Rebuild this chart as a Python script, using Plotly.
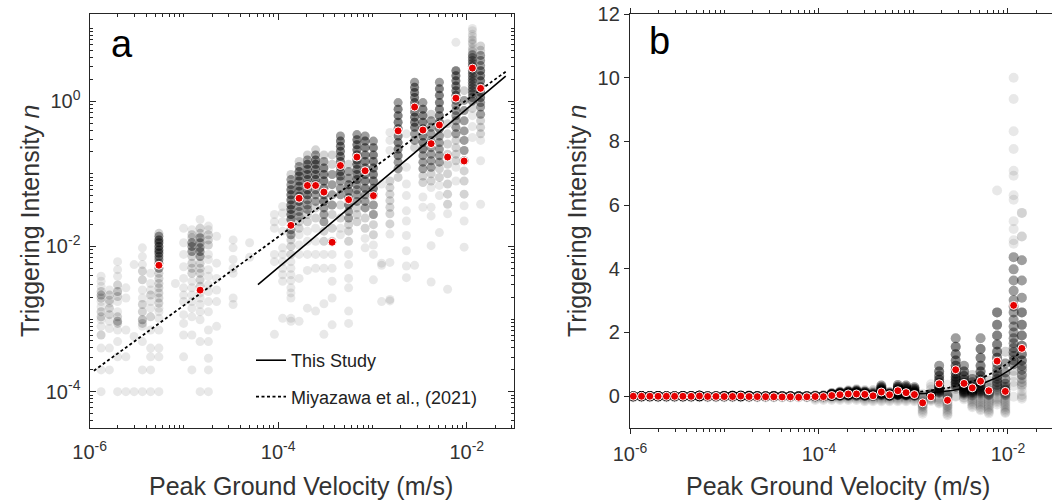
import numpy as np
import plotly.graph_objects as go

# ---------------- data ----------------
# PGV bin centres (m/s)
pgv_bins = [1.084e-6, 1.324e-6, 1.622e-6, 1.982e-6, 2.427e-6, 2.965e-6, 3.631e-6, 4.436e-6,
            5.433e-6, 6.637e-6, 8.128e-6, 9.93e-6, 1.216e-5, 1.486e-5, 1.820e-5, 2.223e-5,
            2.723e-5, 3.327e-5, 4.074e-5, 4.977e-5, 6.095e-5, 7.447e-5, 9.12e-5, 1.114e-4,
            1.365e-4, 1.667e-4, 2.042e-4, 2.495e-4, 3.055e-4, 3.733e-4, 4.571e-4, 5.585e-4,
            6.839e-4, 8.356e-4, 1.023e-3, 1.250e-3, 1.531e-3, 1.871e-3, 2.291e-3, 2.799e-3,
            3.428e-3, 4.188e-3, 5.129e-3, 6.266e-3, 7.674e-3, 9.376e-3, 1.148e-2, 1.403e-2]

# bin means of triggering intensity n (red dots)
mean_n = [-0.002, -0.003, -0.002, -0.004, -0.003, -0.005, -0.004, -0.006,
          0.0055, -0.01, -0.008, -0.012, -0.01, 0.0025, -0.012, -0.015,
          -0.018, -0.02, -0.025, -0.022, -0.035, -0.02, -0.012, -0.015,
          0.0195, 0.046, 0.069, 0.069, 0.056, 0.0114, 0.13, 0.044,
          0.17, 0.11, 0.05, -0.21, -0.02, 0.39, -0.13, 0.83,
          0.40, 0.26, 0.47, 0.17, 1.10, 0.15, 2.85, 1.50]

# individual positive n values per bin, as log10(n)
pos_log = [
    [],
    [-2.41, -2.48, -2.55, -2.62, -2.67, -2.71, -2.76, -2.83, -2.90, -2.97, -3.01, -3.10, -3.22, -3.40, -3.70, -4.0],
    [-2.60, -2.67, -2.74, -2.78, -2.85, -2.94, -3.03, -3.13, -3.40, -3.70],
    [-2.21, -2.32, -2.41, -2.53, -2.62, -2.69, -2.76, -2.90, -2.97, -3.03, -3.06, -3.15, -3.31, -3.52, -4.0],
    [-2.57, -2.71, -3.15, -3.52, -4.0],
    [-2.25, -3.24, -4.0],
    [-2.02, -2.14, -2.25, -2.34, -2.46, -2.60, -2.71, -2.80, -2.90, -3.01, -3.06, -3.10, -3.31, -3.70, -4.0],
    [-2.37, -2.51, -2.60, -2.67, -2.76, -2.85, -2.97, -3.15, -3.40, -3.52, -3.70, -4.0],
    [-1.82, -1.86, -1.91, -1.95, -2.0, -2.05, -2.09, -2.14, -2.18, -2.23, -2.30, -2.37, -2.44, -2.51, -2.57,
     -2.64, -2.71, -2.78, -2.85, -2.90, -2.99, -3.15, -3.40, -3.52, -4.0],
    [],
    [-2.51],
    [-1.75, -1.95, -2.11, -2.28, -2.44, -2.57, -2.67, -2.76, -2.94, -3.06, -3.22, -3.52],
    [-1.77, -1.84, -1.88, -1.95, -2.0, -2.07, -2.14, -2.23, -2.30, -2.37, -2.48, -2.57, -2.67, -2.76, -2.85,
     -2.97, -3.22, -3.70],
    [-1.63, -1.75, -1.82, -1.88, -1.95, -2.02, -2.07, -2.14, -2.23, -2.30, -2.37, -2.46, -2.55, -2.64, -2.71,
     -2.80, -2.90, -3.01, -3.31, -4.0],
    [-1.72, -1.77, -1.84, -1.91, -1.98, -2.11, -2.18, -2.32, -2.41, -2.53, -2.62, -2.76, -2.90, -3.15, -3.31,
     -3.54, -3.70, -4.0],
    [-1.86, -2.23, -2.44, -2.60, -2.76, -3.10],
    [],
    [-1.91, -2.02, -2.18, -2.30, -2.37, -2.71, -2.80],
    [],
    [-1.95, -2.15],
    [],
    [],
    [-1.56, -1.66, -1.75, -2.11, -2.21, -3.21],
    [-1.45, -1.54, -1.66, -1.79, -2.02, -2.11, -2.21, -2.30, -2.39, -2.48, -2.99],
    [-1.01, -1.08, -1.15, -1.22, -1.29, -1.36, -1.43, -1.49, -1.56, -1.63, -1.77, -1.84, -1.91, -2.0, -2.11,
     -2.21, -2.30, -2.39, -2.47, -2.57, -2.64, -2.71, -2.99, -3.03],
    [-0.83, -0.90, -0.97, -1.03, -1.10, -1.17, -1.24, -1.31, -1.38, -1.45, -1.52, -1.59, -1.66, -1.75, -1.84,
     -1.98, -2.11, -2.44, -3.03],
    [-0.74, -0.81, -0.87, -0.94, -1.01, -1.08, -1.15, -1.22, -1.29, -1.36, -1.43, -1.49, -1.56, -1.66, -1.79,
     -1.93, -2.11, -2.33, -2.85],
    [-0.67, -0.74, -0.81, -0.87, -0.94, -1.01, -1.08, -1.15, -1.22, -1.29, -1.38, -1.47, -1.61, -1.75, -1.93,
     -2.11, -2.30, -2.89],
    [-0.74, -0.83, -0.92, -1.01, -1.10, -1.20, -1.29, -1.38, -1.47, -1.56, -1.66, -1.79, -1.93, -2.11, -2.30,
     -2.79, -3.21],
    [-0.74, -0.87, -1.01, -1.15, -1.29, -1.43, -1.56, -1.75, -1.93, -2.11, -2.30, -2.48, -2.71, -3.08],
    [-0.48, -0.55, -0.62, -0.69, -0.76, -0.83, -0.90, -0.97, -1.03, -1.10, -1.20, -1.29, -1.43, -1.61, -1.75,
     -1.84],
    [-0.87, -0.97, -1.06, -1.15, -1.24, -1.33, -1.43, -1.52, -1.61, -1.70, -1.79, -1.93, -2.11, -2.25, -2.44,
     -2.57, -2.89, -3.06],
    [-0.46, -0.53, -0.60, -0.67, -0.74, -0.81, -0.87, -0.94, -1.01, -1.08, -1.15, -1.22, -1.29, -1.38, -1.47,
     -1.56, -1.66],
    [-0.48, -0.55, -0.64, -0.74, -0.83, -0.92, -1.01, -1.10, -1.20, -1.29, -1.38, -1.47, -1.61, -1.75, -1.89,
     -2.02],
    [-0.55, -0.64, -0.74, -0.83, -0.92, -1.01, -1.10, -1.20, -1.29, -1.43, -1.56, -1.70, -1.84, -1.98, -2.11,
     -2.46],
    [-1.14, -2.23, -2.26, -2.76],
    [-0.43, -0.54, -0.68, -1.10, -1.19, -1.28, -1.37, -1.46, -1.55, -1.69, -1.83, -2.22, -2.73, -2.75],
    [-0.02, -0.11, -0.20, -0.29, -0.38, -0.48, -0.57, -0.66, -0.75, -0.84, -0.93, -1.05],
    [-0.45, -0.91, -1.14, -1.30, -1.51, -1.65, -1.85, -2.06, -2.27, -2.43],
    [0.26, 0.19, 0.12, 0.05, -0.02, -0.08, -0.15, -0.22, -0.29, -0.36, -0.45, -0.54, -0.64, -2.26],
    [-0.02, -0.11, -0.20, -0.29, -0.38, -0.48, -0.57, -0.66, -0.75, -0.84, -0.93, -1.03, -1.12, -1.32, -1.46],
    [-0.18, -0.27, -0.36, -0.45, -0.54, -0.64, -0.73, -0.82, -0.91, -1.00, -1.10, -1.19, -1.46, -1.58, -1.99,
     -2.49],
    [0.26, 0.17, 0.08, -0.02, -0.11, -0.20, -0.29, -0.38, -0.48, -0.57, -0.66, -0.75, -0.84, -0.93, -1.05,
     -1.16, -1.30, -1.81],
    [-0.31, -0.45, -0.59, -0.73, -0.87, -1.00, -1.14, -1.28, -1.42, -1.55, -2.59],
    [0.81, 0.42, 0.35, 0.28, 0.21, 0.145, 0.08, 0.01, -0.06, -0.13, -0.20, -0.27, -0.36, -0.45, -0.54,
     -0.64, -0.73, -0.82, -0.91, -1.10],
    [0.145, 0.01, -0.13, -0.27, -0.41, -0.54, -0.68, -0.82, -0.96, -1.10, -1.28, -1.44, -1.65, -2.01],
    [1.0, 0.97, 0.92, 0.89, 0.85, 0.84, 0.80, 0.79, 0.74, 0.72, 0.69, 0.68, 0.64, 0.60, 0.56, 0.52, 0.48,
     0.45, 0.42, 0.38, 0.34, 0.30, 0.26, 0.22, 0.18, 0.14, 0.10, 0.05, 0.0, -0.1, -0.2, -0.35, -0.5],
    [0.76, 0.70, 0.63, 0.56, 0.49, 0.42, 0.35, 0.28, 0.20, 0.12, 0.05, -0.02, -0.08, -0.18, -0.27, -0.36,
     -0.45, -0.54, -0.82, -1.42],
]

# number of events sharing each value above (stack depth), one digit per value
pos_mult = [
    "", "1112321122112111", "1221221111", "111232112321111", "11111", "111",
    "111221122321111", "111211211111", "2577777555522222221111111", "", "1",
    "111111111111", "122555222211111111", "12255555222221111111", "112221111111111111",
    "111111", "", "1111111", "", "11", "", "", "111111", "11111111111",
    "255777777755222111111111", "2577777775552211111", "2577777775552211111",
    "257777775552211111", "25777777555221111", "22555522211111", "5777777775552211",
    "255777755222111111", "57777777775555222", "5777777775552211", "5777777755522111",
    "1111", "11122222221111", "577777777552", "1111111111", "57777777775521",
    "577777775552211", "2555555552211111", "577777775555522111", "22222222211",
    "17777775555555222211", "25555555222111",
    "111111111111" + "55555555555555555" + "2111",
    "22555777777555222111",
]

# number of events with n = 0 per bin
n_zero = [20, 20, 20, 20, 20, 20, 20, 20, 20, 20, 20, 20, 20, 20, 20, 20, 20, 20, 20, 20, 20, 20, 20, 20,
          0, 0, 0, 0, 0, 0, 0, 0, 0, 0, 0, 0, 0, 0, 0, 0, 0, 0, 0, 0, 0, 0, 0, 0]

# negative n values per bin (only visible on the linear panel)
neg_n = (
    [[-0.01, -0.02, -0.03, -0.04]] * 22
    + [[-0.02, -0.05, -0.08, -0.12]] * 6
    + [[-0.02, -0.05, -0.08, -0.12, -0.16]] * 7
    + [
        [-0.05, -0.1, -0.15, -0.2, -0.2, -0.25, -0.25, -0.3, -0.3, -0.35, -0.4, -0.45, -0.5, -0.55],
        [-0.02, -0.05, -0.08, -0.1, -0.12, -0.15],
        [-0.05, -0.1, -0.15, -0.2, -0.23],
        [-0.05, -0.1, -0.15, -0.2, -0.25, -0.3, -0.3, -0.35, -0.4, -0.45, -0.5, -0.55, -0.6],
        [-0.02],
        [-0.03, -0.06, -0.1],
        [-0.05, -0.1, -0.15, -0.2, -0.25, -0.3, -0.35],
        [-0.05, -0.1, -0.15, -0.2, -0.25, -0.3, -0.35, -0.4, -0.44],
        [-0.05, -0.1, -0.15, -0.2, -0.25, -0.3, -0.35, -0.4, -0.45, -0.5, -0.54],
        [-0.05, -0.1, -0.15, -0.2, -0.26],
        [-0.05, -0.1, -0.15, -0.2, -0.25, -0.3, -0.35, -0.4, -0.45, -0.5, -0.53],
        [-0.02],
        [-0.03, -0.08],
    ]
)

# power-law fits n = 10**a * PGV**b
fit_this = (2.08, 1.093)
fit_miya = (1.903, 0.943)
this_x_range = [6.1e-5, 2.59e-2]
miya_x_range = [1.11e-6, 2.59e-2]
b_line_end = 1.40e-2

# ---------------- build point clouds ----------------
for k in range(len(pgv_bins)):
    assert len(pos_log[k]) == len(pos_mult[k]), (k, len(pos_log[k]), len(pos_mult[k]))

ax_x, ax_y, bx_x, bx_y = [], [], [], []
for k, xv in enumerate(pgv_bins):
    vals = np.repeat(10.0 ** np.array(pos_log[k], dtype=float),
                     [int(c) for c in pos_mult[k]]) if pos_log[k] else np.array([])
    ax_x += [xv] * len(vals)
    ax_y += list(vals)
    allv = list(vals) + [0.0] * n_zero[k] + list(neg_n[k])
    bx_x += [xv] * len(allv)
    bx_y += allv

mean_arr = np.array(mean_n)
pg = np.array(pgv_bins)
posmask = mean_arr > 0

def power(fit, x):
    x = np.asarray(x, dtype=float)
    return 10 ** fit[0] * x ** fit[1]

FONT = "Liberation Sans, Arial, Helvetica, sans-serif"
GRAY = "rgba(0,0,0,0.09)"
RED = "#e60000"
GSIZE = 9
RSIZE = 8

fig = go.Figure()

# panel a
fig.add_trace(go.Scatter(x=ax_x, y=ax_y, mode="markers", xaxis="x", yaxis="y",
                         marker=dict(size=GSIZE, color=GRAY, line=dict(width=0)),
                         showlegend=False, hoverinfo="skip"))
fig.add_trace(go.Scatter(x=this_x_range, y=power(fit_this, this_x_range), mode="lines",
                         xaxis="x", yaxis="y", line=dict(color="black", width=1.6),
                         name="This Study", legendgroup="g1"))
fig.add_trace(go.Scatter(x=miya_x_range, y=power(fit_miya, miya_x_range), mode="lines",
                         xaxis="x", yaxis="y", line=dict(color="black", width=1.8, dash="3px,2.5px"),
                         name="Miyazawa et al., (2021)", legendgroup="g2"))
fig.add_trace(go.Scatter(x=pg[posmask], y=mean_arr[posmask], mode="markers", xaxis="x", yaxis="y",
                         marker=dict(size=RSIZE, color=RED, line=dict(width=1, color="white")),
                         showlegend=False))

# panel b
fig.add_trace(go.Scatter(x=bx_x, y=bx_y, mode="markers", xaxis="x2", yaxis="y2",
                         marker=dict(size=GSIZE + 1, color=GRAY, line=dict(width=0)),
                         showlegend=False, hoverinfo="skip"))
xb_this = np.logspace(np.log10(this_x_range[0]), np.log10(b_line_end), 200)
xb_miya = np.logspace(np.log10(miya_x_range[0]), np.log10(b_line_end), 300)
fig.add_trace(go.Scatter(x=xb_this, y=power(fit_this, xb_this), mode="lines", xaxis="x2", yaxis="y2",
                         line=dict(color="black", width=1.6), showlegend=False))
fig.add_trace(go.Scatter(x=xb_miya, y=power(fit_miya, xb_miya), mode="lines", xaxis="x2", yaxis="y2",
                         line=dict(color="black", width=1.8, dash="3px,2.5px"), showlegend=False))
fig.add_trace(go.Scatter(x=pg, y=mean_arr, mode="markers", xaxis="x2", yaxis="y2",
                         marker=dict(size=RSIZE, color=RED, line=dict(width=1, color="white")),
                         showlegend=False))

W, H = 1052, 500
def px_x(p):
    return p / W
def px_y(p):
    return 1 - p / H

lab_x = [1e-6, 1e-4, 1e-2]
lab_x_txt = ["10<sup>-6</sup>", "10<sup>-4</sup>", "10<sup>-2</sup>"]
minor_x = [m * 10.0 ** e for e in range(-6, -1) for m in range(1, 10)
           if m * 10.0 ** e < 0.0316 and not (m == 1 and e in (-6, -4, -2))]
lab_y = [1e-4, 1e-2, 1e0]
lab_y_txt = ["10<sup>-4</sup>", "10<sup>-2</sup>", "10<sup>0</sup>"]
minor_y = [m * 10.0 ** e for e in range(-5, 2) for m in range(1, 10)
           if 10 ** -4.5 < m * 10.0 ** e < 10 ** 1.2 and not (m == 1 and e in (-4, -2, 0))]

LINEC = "#262626"
TICKF = dict(family=FONT, size=20, color="#333333")
ydom = [px_y(428), px_y(14)]

fig.update_layout(
    width=W, height=H, margin=dict(l=0, r=0, t=0, b=0),
    paper_bgcolor="white", plot_bgcolor="white", template="none",
    font=dict(family=FONT, color="#222222"),
    xaxis=dict(type="log", range=[-6, -1.5], domain=[px_x(89.6), px_x(513.9)], anchor="y",
               showline=True, linecolor=LINEC, linewidth=1.3, mirror="allticks",
               ticks="inside", ticklen=6, tickwidth=1, tickcolor=LINEC, ticklabelstandoff=6,
               tickmode="array", tickvals=lab_x, ticktext=lab_x_txt, tickfont=TICKF,
               minor=dict(ticks="inside", ticklen=3, tickwidth=1, tickcolor=LINEC,
                          tickmode="array", tickvals=minor_x),
               showgrid=False, zeroline=False),
    yaxis=dict(type="log", range=[-4.5, 1.2], domain=ydom, anchor="x",
               showline=True, linecolor=LINEC, linewidth=1.3, mirror="allticks",
               ticks="inside", ticklen=6, tickwidth=1, tickcolor=LINEC, ticklabelstandoff=4,
               tickmode="array", tickvals=lab_y, ticktext=lab_y_txt, tickfont=TICKF,
               minor=dict(ticks="inside", ticklen=3, tickwidth=1, tickcolor=LINEC,
                          tickmode="array", tickvals=minor_y),
               showgrid=False, zeroline=False),
    xaxis2=dict(type="log", range=[-6, -1.534], domain=[px_x(630), 1.0], anchor="y2",
                showline=True, linecolor=LINEC, linewidth=1.3, mirror="allticks",
                ticks="outside", ticklen=5, tickwidth=1, tickcolor=LINEC, ticklabelstandoff=3,
                tickmode="array", tickvals=lab_x, ticktext=lab_x_txt, tickfont=TICKF,
                minor=dict(ticks="outside", ticklen=3, tickwidth=1, tickcolor=LINEC,
                           tickmode="array", tickvals=minor_x),
                showgrid=False, zeroline=False),
    yaxis2=dict(type="linear", range=[-1, 12], domain=ydom, anchor="x2",
                showline=True, linecolor=LINEC, linewidth=1.3, mirror=False,
                ticks="outside", ticklen=5, tickwidth=1, tickcolor=LINEC,
                tickmode="array", tickvals=[0, 2, 4, 6, 8, 10, 12], tickfont=TICKF,
                showgrid=False, zeroline=False),
    legend=dict(x=px_x(251), y=px_y(342), xanchor="left", yanchor="top",
                font=dict(family=FONT, size=18, color="#222222"), bgcolor="rgba(0,0,0,0)",
                tracegroupgap=10, itemwidth=30),
    showlegend=True,
)

ann = [
    dict(text="a", x=px_x(109), y=px_y(44), xanchor="left", yanchor="middle", font=dict(size=38, color="black")),
    dict(text="b", x=px_x(647), y=px_y(41), xanchor="left", yanchor="middle", font=dict(size=38, color="black")),
    dict(text="Peak Ground Velocity (m/s)", x=px_x(301), y=px_y(486), xanchor="center", yanchor="middle",
         font=dict(size=25, color="#333333")),
    dict(text="Peak Ground Velocity (m/s)", x=px_x(838), y=px_y(486), xanchor="center", yanchor="middle",
         font=dict(size=25, color="#333333")),
    dict(text="Triggering Intensity <i>n</i>", x=px_x(30), y=px_y(221), textangle=-90, xanchor="center",
         yanchor="middle", font=dict(size=25, color="#333333")),
    dict(text="Triggering Intensity <i>n</i>", x=px_x(577), y=px_y(221), textangle=-90, xanchor="center",
         yanchor="middle", font=dict(size=25, color="#333333")),
]
for a in ann:
    a.update(xref="paper", yref="paper", showarrow=False)
    a["font"]["family"] = FONT
fig.update_layout(annotations=ann)

fig.write_html("out.html")
